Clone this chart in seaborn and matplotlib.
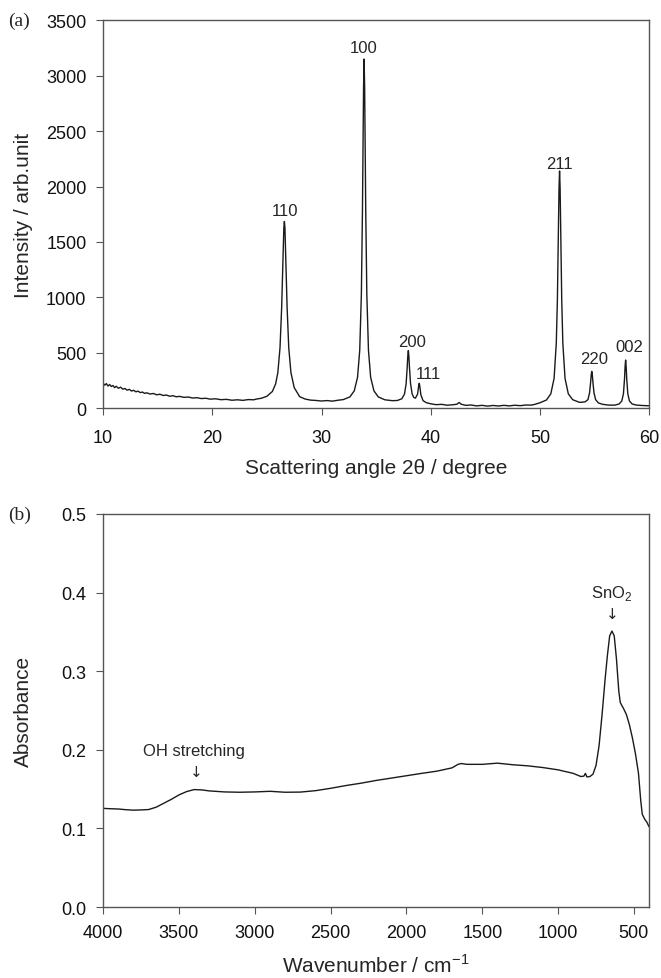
import numpy as np
import pandas as pd
import matplotlib
matplotlib.use("Agg")
import matplotlib.pyplot as plt
import seaborn as sns

# ---------------- XRD data (2theta, intensity) ----------------
xrd_angle = [10.0, 10.15, 10.3, 10.45, 10.6, 10.75, 10.9, 11.05, 11.2, 11.4, 11.6, 11.8, 12.0, 12.2,
             12.4, 12.6, 12.8, 13.0, 13.2, 13.4, 13.6, 13.8, 14.0, 14.3, 14.6, 14.9, 15.2, 15.5, 15.8,
             16.1, 16.4, 16.7, 17.0, 17.4, 17.8, 18.2, 18.6, 19.0, 19.4, 19.8, 20.3, 20.8, 21.3, 21.8,
             22.3, 22.8, 23.3, 23.8, 24.0,
             24.5, 25.0, 25.5, 25.8, 26.0, 26.2, 26.35, 26.45, 26.55, 26.6, 26.65, 26.75, 26.85, 27.0,
             27.2, 27.5, 28.0, 28.5, 29.0, 29.5, 30.0, 30.5, 31.0, 31.5, 32.0, 32.6, 33.0, 33.3, 33.5,
             33.65, 33.75, 33.8, 33.85, 33.9, 33.95, 34.0, 34.05, 34.15, 34.3, 34.5, 34.8, 35.2, 35.8,
             36.5, 36.95, 37.35, 37.6, 37.75, 37.85, 37.9, 37.95, 38.0, 38.05, 38.15, 38.3, 38.45, 38.6,
             38.8, 38.9, 38.95, 39.0, 39.1, 39.3, 39.6, 40.0, 40.5, 41.0, 41.5, 42.0, 42.4, 42.6, 42.8,
             43.2, 43.7, 44.2, 44.7, 45.2, 45.7, 46.2, 46.7, 47.2, 47.7, 48.2, 48.7, 49.2, 49.5,
             50.0, 50.6, 51.0, 51.3, 51.5, 51.6, 51.7, 51.75, 51.8, 51.85, 51.9, 52.0, 52.1, 52.3, 52.6,
             53.0, 53.6, 53.75, 54.15, 54.4, 54.55, 54.65, 54.7, 54.75, 54.8, 54.85, 54.95, 55.1, 55.35,
             55.75, 56.3, 56.85, 57.25, 57.5, 57.65, 57.75, 57.8, 57.85, 57.9, 57.95, 58.05, 58.2, 58.45,
             58.85, 59.5, 60.0]
xrd_intensity = [225, 208, 222, 200, 214, 196, 205, 186, 198, 180, 190, 172, 178, 163,
                 170, 155, 162, 148, 154, 141, 146, 134, 139, 128, 133, 121, 126, 115, 119,
                 108, 113, 103, 107, 98, 101, 92, 95, 87, 90, 82, 85, 77, 80, 72,
                 76, 71, 78, 76, 82,
                 90, 108, 151, 220, 321, 546, 907, 1280, 1627, 1685, 1627, 1280, 907, 546,
                 321, 186, 104, 83, 73, 70, 65, 69, 64, 72, 78, 102, 157, 279, 522,
                 1027, 1787, 2346, 2893, 3150, 2893, 2346, 1787, 1027, 522, 279, 157, 102, 76,
                 68, 70, 85, 128, 222, 374, 469, 520, 470, 375, 225, 129, 97, 91,
                 128, 203, 225, 199, 120, 68, 50, 40, 32, 35, 27, 31, 36, 52, 36,
                 26, 29, 21, 26, 19, 25, 20, 26, 21, 27, 23, 29, 28, 34,
                 49, 74, 130, 270, 587, 971, 1640, 1986, 2140, 1986, 1640, 971, 587, 270, 130,
                 77, 54, 53, 58, 78, 140, 240, 302, 332, 302, 240, 140, 78, 48,
                 35, 28, 28, 38, 65, 131, 266, 374, 435, 374, 266, 131, 65, 38,
                 28, 24, 22]
xrd_peak_labels = ["110", "100", "200", "111", "211", "220", "002"]
xrd_label_x = [26.65, 33.9, 38.3, 39.75, 51.75, 55.0, 58.2]
xrd_label_y = [1780, 3250, 604, 315, 2211, 449, 560]

# ---------------- FTIR data (wavenumber, absorbance) ----------------
ir_wavenumber = [4000, 3950, 3900, 3850, 3800, 3750, 3700, 3650, 3600, 3550, 3500, 3450, 3400, 3350,
                 3300, 3200, 3100, 3000, 2900, 2800, 2700, 2600, 2500, 2400, 2300, 2200, 2100, 2000,
                 1900, 1800, 1700, 1660, 1640, 1600, 1500, 1400, 1300, 1200, 1100, 1000, 900, 850,
                 830, 820, 810, 790, 770, 750, 730, 710, 690, 675, 660, 645, 630, 615, 600, 590,
                 570, 550, 530, 510, 490, 470, 455, 445, 430, 415, 400]
ir_absorbance = [0.1255, 0.125, 0.1247, 0.1238, 0.1232, 0.1235, 0.124, 0.127, 0.132, 0.137, 0.1426,
                 0.1468, 0.1494, 0.149, 0.1477, 0.1464, 0.146, 0.1464, 0.1472, 0.146, 0.1462, 0.148,
                 0.151, 0.1545, 0.1575, 0.161, 0.164, 0.167, 0.170, 0.1728, 0.177, 0.1815, 0.1825,
                 0.1815, 0.1815, 0.183, 0.181, 0.1796, 0.1774, 0.1745, 0.170, 0.166, 0.1665, 0.170,
                 0.1655, 0.166, 0.169, 0.18, 0.205, 0.245, 0.29, 0.32, 0.345, 0.351, 0.345, 0.315,
                 0.275, 0.26, 0.253, 0.245, 0.232, 0.215, 0.195, 0.17, 0.135, 0.118, 0.112, 0.108,
                 0.102]

xrd_df = pd.DataFrame({"angle": xrd_angle, "intensity": xrd_intensity})
ir_df = pd.DataFrame({"wn": ir_wavenumber, "abs": ir_absorbance})

sns.set_style("ticks")
plt.rcParams["font.family"] = ["Liberation Sans", "DejaVu Sans"]
plt.rcParams["mathtext.fontset"] = "custom"
plt.rcParams["mathtext.rm"] = "Liberation Sans"

fig = plt.figure(figsize=(6.61, 9.79), dpi=100)
ax1 = fig.add_axes([0.156, 0.582, 0.826, 0.3963])
ax2 = fig.add_axes([0.156, 0.0725, 0.826, 0.4015])

line_color = "#1a1a1a"
sns.lineplot(data=xrd_df, x="angle", y="intensity", ax=ax1, color=line_color, lw=1.0,
             sort=False, estimator=None)
sns.lineplot(data=ir_df, x="wn", y="abs", ax=ax2, color=line_color, lw=1.0,
             sort=False, estimator=None)

for ax in (ax1, ax2):
    for sp in ax.spines.values():
        sp.set_color("#555555")
        sp.set_linewidth(1.0)
    ax.tick_params(direction="out", length=5, width=0.8, color="#555555",
                   labelsize=13, labelcolor="#111111")
    ax.tick_params(axis="y", pad=7)

ax1.tick_params(axis="x", pad=10)
ax2.tick_params(axis="x", pad=7.5)

ax1.set_xlim(10, 60)
ax1.set_ylim(0, 3500)
ax1.set_xticks([10, 20, 30, 40, 50, 60])
ax1.set_yticks(np.arange(0, 3501, 500))
ax1.set_xlabel("Scattering angle 2θ / degree", fontsize=15)
ax1.set_ylabel("Intensity / arb.unit", fontsize=15)
ax1.xaxis.set_label_coords(0.5, -0.128)
ax1.yaxis.set_label_coords(-0.128, 0.5)
for lab, x, y in zip(xrd_peak_labels, xrd_label_x, xrd_label_y):
    ax1.text(x, y, lab, ha="center", va="center", fontsize=12)

ax2.set_xlim(4000, 400)
ax2.set_ylim(0, 0.5)
ax2.set_xticks([4000, 3500, 3000, 2500, 2000, 1500, 1000, 500])
ax2.set_yticks([0.0, 0.1, 0.2, 0.3, 0.4, 0.5])
ax2.yaxis.set_major_formatter(matplotlib.ticker.FormatStrFormatter("%.1f"))
ax2.set_xlabel("Wavenumber / cm$^{-1}$", fontsize=15)
ax2.set_ylabel("Absorbance", fontsize=15)
ax2.xaxis.set_label_coords(0.5, -0.118)
ax2.yaxis.set_label_coords(-0.128, 0.5)

ax2.text(3400, 0.199, "OH stretching", ha="center", va="center", fontsize=12)
ax2.text(3385, 0.173, "↓", ha="center", va="center", fontsize=11, family=["DejaVu Sans"])
ax2.text(645, 0.40, "SnO$_2$", ha="center", va="center", fontsize=12)
ax2.text(645, 0.373, "↓", ha="center", va="center", fontsize=11, family=["DejaVu Sans"])

fig.text(0.012, 0.9785, "(a)", ha="left", va="center", fontsize=14, family=["Liberation Serif"])
fig.text(0.012, 0.474, "(b)", ha="left", va="center", fontsize=14, family=["Liberation Serif"])

fig.savefig("out.png", dpi=100)
